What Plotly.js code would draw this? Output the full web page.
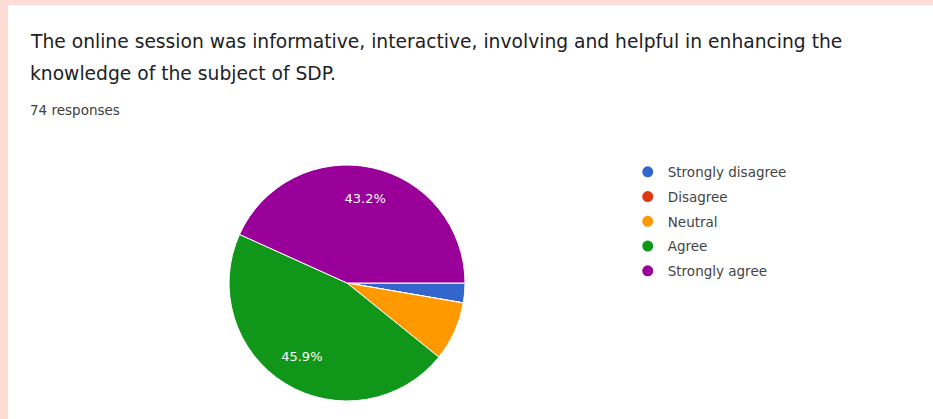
<!DOCTYPE html>
<html>
<head>
<meta charset="utf-8">
<script src="https://cdn.plot.ly/plotly-3.0.1.min.js"></script>
<style>
  html, body { margin: 0; padding: 0; background: #fddcd6; width: 933px; height: 419px; overflow: hidden; }
  #chart { position: absolute; left: 8px; top: 5px; width: 925px; height: 414px; }
</style>
</head>
<body>
<div id="chart"></div>
<script>
const categories = ["Strongly disagree", "Disagree", "Neutral", "Agree", "Strongly agree"];
const responses = [2, 0, 6, 34, 32];
const colors = ["#3366cc", "#dc3912", "#ff9900", "#109618", "#990099"];
const titleLines = [
  "The online session was informative, interactive, involving and helpful in enhancing the",
  "knowledge of the subject of SDP."
];
const responseNote = "74 responses";

const total = responses.reduce((a, b) => a + b, 0);
const texttemplate = responses.map(v => (v / total >= 0.1 ? "%{percent:.1%}" : ""));
const pieDomain = { x: [0.2389, 0.4941], y: [0.0435, 0.6135] };

// Solid pie (shapes)
const pieTrace = {
  type: "pie",
  labels: categories,
  values: responses,
  sort: false,
  direction: "clockwise",
  rotation: 90,
  marker: { colors: colors, line: { color: "#ffffff", width: 1 } },
  textinfo: "none",
  hoverinfo: "label+percent",
  showlegend: false,
  domain: pieDomain
};

// Transparent ring overlay carrying the percentage labels (places text at ~0.73 r)
const labelTrace = {
  type: "pie",
  labels: categories,
  values: responses,
  sort: false,
  direction: "clockwise",
  rotation: 90,
  hole: 0.46,
  marker: { colors: categories.map(() => "rgba(0,0,0,0)"), line: { width: 0 } },
  texttemplate: texttemplate,
  textposition: "inside",
  insidetextorientation: "horizontal",
  textfont: { color: "#ffffff", size: 13, family: "'DejaVu Sans', Arial, sans-serif" },
  hoverinfo: "skip",
  showlegend: false,
  domain: pieDomain
};

const legendTraces = categories.map((c, i) => ({
  type: "scatter",
  mode: "markers",
  x: [null],
  y: [null],
  name: c,
  legendgroup: "g" + i,
  marker: { color: colors[i], size: 11, symbol: "circle" },
  showlegend: true,
  hoverinfo: "skip"
}));

const layout = {
  width: 925,
  height: 414,
  margin: { l: 0, r: 0, t: 0, b: 0 },
  paper_bgcolor: "#ffffff",
  plot_bgcolor: "#ffffff",
  xaxis: { visible: false },
  yaxis: { visible: false },
  showlegend: true,
  legend: {
    x: 0.67, y: 0.634, xanchor: "left", yanchor: "top",
    font: { family: "'DejaVu Sans', Arial, sans-serif", size: 13.5, color: "#444444" },
    tracegroupgap: 4.2,
    bgcolor: "rgba(0,0,0,0)"
  },
  annotations: [
    { text: titleLines[0], xref: "paper", yref: "paper", x: 20 / 925, y: 1 - 37 / 414,
      xanchor: "left", yanchor: "middle", showarrow: false,
      font: { family: "'DejaVu Sans', Roboto, sans-serif", size: 18.7, color: "#202124" } },
    { text: titleLines[1], xref: "paper", yref: "paper", x: 20 / 925, y: 1 - 68 / 414,
      xanchor: "left", yanchor: "middle", showarrow: false,
      font: { family: "'DejaVu Sans', Roboto, sans-serif", size: 18.7, color: "#202124" } },
    { text: responseNote, xref: "paper", yref: "paper", x: 20 / 925, y: 1 - 105 / 414,
      xanchor: "left", yanchor: "middle", showarrow: false,
      font: { family: "'DejaVu Sans', Arial, sans-serif", size: 13.5, color: "#3c4043" } }
  ]
};

Plotly.newPlot("chart", [pieTrace, labelTrace, ...legendTraces], layout, { displayModeBar: false, staticPlot: true });
</script>
</body>
</html>
